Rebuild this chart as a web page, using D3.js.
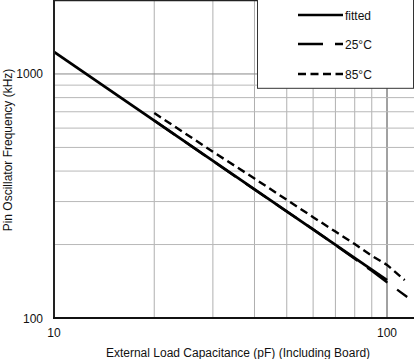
<!DOCTYPE html>
<html>
<head>
<meta charset="utf-8">
<script src="https://cdn.jsdelivr.net/npm/d3@7"></script>
<style>
  body { margin: 0; background: #fff; }
  text { font-family: "Liberation Sans", Arial, sans-serif; font-size: 12px; fill: #111; }
</style>
</head>
<body>
<div id="chart"></div>
<script>
(function () {
	// values
	var capFitted = [10, 100],
		freqFitted = [1231, 143];
	var cap25 = [20, 30, 40, 50, 60, 70, 80, 90, 100, 115],
		freq25 = [645, 440, 336, 273, 231, 199, 175, 156, 140, 122];
	var cap85 = [20, 30, 40, 50, 60, 70, 80, 90, 100, 113],
		freq85 = [692, 480, 373, 305, 259, 226, 201, 180, 165, 143];
	var xGrid = [20, 30, 40, 50, 60, 70, 80, 90, 100],
		yGrid = [200, 300, 400, 500, 600, 700, 800, 900, 1000],
		xLabels = [10, 100],
		yLabels = [100, 1000];
	var seriesNames = ["fitted", "25°C", "85°C"],
		dashes = [null, "25,12", "8,4.5"];

	var width = 414, height = 359;
	var margin = {top: 0.5, left: 54, right: 0, bottom: 41};

	var svg = d3.select("#chart")
		.append("svg")
		.attr("width", width)
		.attr("height", height);

	var x = d3.scaleLog().domain([10, 120]).range([margin.left, margin.left + 333 * Math.log10(12)]);
	var y = d3.scaleLog().domain([100, 2000]).range([height - margin.bottom, margin.top]);

	// grid
	svg.selectAll(".vgrid")
		.data(xGrid)
		.enter().append("line")
		.attr("x1", function (d) { return x(d); })
		.attr("x2", function (d) { return x(d); })
		.attr("y1", y(100))
		.attr("y2", y(2000))
		.attr("stroke", function (d) { return d === 100 ? "#444" : "#b0b0b0"; })
		.attr("stroke-width", 1);

	svg.selectAll(".hgrid")
		.data(yGrid)
		.enter().append("line")
		.attr("x1", x(10))
		.attr("x2", width)
		.attr("y1", function (d) { return y(d); })
		.attr("y2", function (d) { return y(d); })
		.attr("stroke", function (d) { return d === 1000 ? "#888" : "#b8b8b8"; })
		.attr("stroke-width", 1);

	// series
	var line = d3.line()
		.x(function (d) { return x(d[0]); })
		.y(function (d) { return y(d[1]); });

	var series = [
		d3.zip(capFitted, freqFitted),
		d3.zip(cap25, freq25),
		d3.zip(cap85, freq85)
	];

	svg.selectAll(".series")
		.data([2, 1, 0])
		.enter().append("path")
		.attr("d", function (i) { return line(series[i]); })
		.attr("fill", "none")
		.attr("stroke", "#000")
		.attr("stroke-width", function (i) { return i === 0 ? 2.8 : 2.4; })
		.attr("stroke-dasharray", function (i) { return dashes[i]; });

	// frame
	svg.append("line")
		.attr("x1", x(10)).attr("x2", x(10))
		.attr("y1", 0).attr("y2", y(100) + 1)
		.attr("stroke", "#222").attr("stroke-width", 2);
	svg.append("line")
		.attr("x1", x(10) - 1).attr("x2", width)
		.attr("y1", y(100)).attr("y2", y(100))
		.attr("stroke", "#111").attr("stroke-width", 2);
	svg.append("line")
		.attr("x1", x(10)).attr("x2", width)
		.attr("y1", y(2000)).attr("y2", y(2000))
		.attr("stroke", "#222").attr("stroke-width", 1.5);

	// tick labels
	svg.selectAll(".ylab")
		.data(yLabels)
		.enter().append("text")
		.attr("x", 43)
		.attr("y", function (d) { return y(d) + 4.5; })
		.attr("text-anchor", "end")
		.text(function (d) { return d; });

	svg.selectAll(".xlab")
		.data(xLabels)
		.enter().append("text")
		.attr("x", function (d) { return x(d); })
		.attr("y", 337)
		.attr("text-anchor", "middle")
		.text(function (d) { return d; });

	// axis titles
	svg.append("text")
		.attr("x", 238)
		.attr("y", 357)
		.attr("text-anchor", "middle")
		.text("External Load Capacitance (pF) (Including Board)");

	svg.append("text")
		.attr("transform", "translate(12, 150) rotate(-90)")
		.attr("text-anchor", "middle")
		.text("Pin Oscillator Frequency (kHz)");

	// legend
	var legend = svg.append("g");
	legend.append("rect")
		.attr("x", 257.5).attr("y", -1)
		.attr("width", 156).attr("height", 89.3)
		.attr("fill", "#fff")
		.attr("stroke", "#333").attr("stroke-width", 1);

	var legendY = [15, 44, 74];
	seriesNames.forEach(function (name, i) {
		legend.append("line")
			.attr("x1", 298).attr("x2", 343)
			.attr("y1", legendY[i]).attr("y2", legendY[i])
			.attr("stroke", "#000")
			.attr("stroke-width", 2.6)
			.attr("stroke-dasharray", dashes[i]);
		legend.append("text")
			.attr("x", 345)
			.attr("y", legendY[i] + 4.5)
			.text(name);
	});
})();
</script>
</body>
</html>
